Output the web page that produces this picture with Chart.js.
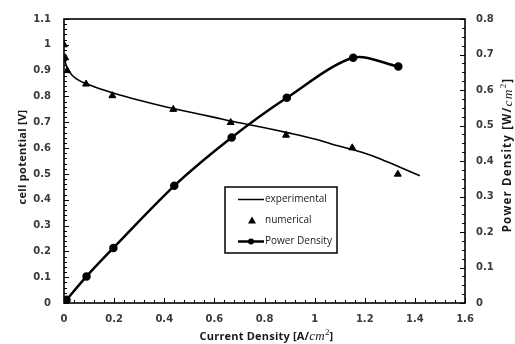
<!DOCTYPE html>
<html>
<head>
<meta charset="utf-8">
<script src="https://cdn.jsdelivr.net/npm/chart.js@4.4.1/dist/chart.umd.min.js"></script>
<style>
  html, body { margin: 0; padding: 0; background: #fff; }
  #wrap { width: 515px; height: 344px; }
</style>
</head>
<body>
<div id="wrap"><canvas id="c" width="515" height="344"></canvas></div>
<script>
// Polarisation curve: measured cell potential
const expCurrent   = [0, 0.005, 0.01, 0.02, 0.05, 0.1, 0.2, 0.3, 0.4, 0.5, 0.6, 0.7, 0.8, 0.9, 1.0, 1.1, 1.2, 1.25, 1.3, 1.35, 1.42];
const expPotential = [0.96, 0.935, 0.918, 0.897, 0.868, 0.845, 0.812, 0.785, 0.761, 0.74, 0.719, 0.698, 0.679, 0.658, 0.635, 0.607, 0.58, 0.563, 0.543, 0.522, 0.493];

// Model results
const numCurrent   = [0, 0.005, 0.013, 0.088, 0.193, 0.436, 0.665, 0.886, 1.15, 1.332];
const numPotential = [1.0, 0.95, 0.90, 0.848, 0.803, 0.75, 0.699, 0.65, 0.601, 0.499];

// Power density (right axis)
const powCurrent = [0, 0.01, 0.09, 0.197, 0.44, 0.669, 0.889, 1.154, 1.334];
const powDensity = [0, 0.009, 0.075, 0.155, 0.33, 0.466, 0.578, 0.691, 0.666];

// Axis ticks
const xTicks      = [0, 0.2, 0.4, 0.6, 0.8, 1, 1.2, 1.4, 1.6];
const xTickLabels = ['0', '0.2', '0.4', '0.6', '0.8', '1', '1.2', '1.4', '1.6'];
const yTicks      = [0, 0.1, 0.2, 0.3, 0.4, 0.5, 0.6, 0.7, 0.8, 0.9, 1, 1.1];
const yTickLabels = ['0', '0.1', '0.2', '0.3', '0.4', '0.5', '0.6', '0.7', '0.8', '0.9', '1', '1.1'];
const y2Ticks      = [0, 0.1, 0.2, 0.3, 0.4, 0.5, 0.6, 0.7, 0.8];
const y2TickLabels = ['0', '0.1', '0.2', '0.3', '0.4', '0.5', '0.6', '0.7', '0.8'];

const legendLabels = ['experimental', 'numerical', 'Power Density'];

const zip = (xs, ys) => xs.map((x, i) => ({ x: x, y: ys[i] }));

const tickFont = { family: 'DejaVu Sans', size: 10, weight: 'bold' };
const tickColor = '#3a3a3a';
const titleBold = '700 11px "Open Sans"';
const mathItalic = 'italic 13px "Liberation Serif"';
const supFont = '9px "Liberation Serif"';

function setTicks(values) {
  return function (scale) { scale.ticks = values.map(v => ({ value: v })); };
}

// Draw a run of differently styled text pieces, centred on (cx, cy), optionally rotated
function drawRuns(ctx, runs, cx, cy, angle, spacing) {
  ctx.save();
  ctx.translate(cx, cy);
  ctx.rotate(angle || 0);
  ctx.letterSpacing = (spacing || 0) + 'px';
  let total = 0;
  runs.forEach(r => { ctx.font = r.font; r.w = ctx.measureText(r.text).width; total += r.w; });
  let x = -total / 2;
  ctx.textBaseline = 'middle';
  ctx.textAlign = 'left';
  ctx.fillStyle = '#1a1a1a';
  runs.forEach(r => { ctx.font = r.font; ctx.fillText(r.text, x, r.dy || 0); x += r.w; });
  ctx.restore();
}

const framePlugin = {
  id: 'frame',
  afterDatasetsDraw(chart) {
    const ctx = chart.ctx;
    const a = chart.chartArea;
    const sx = chart.scales.x, sy = chart.scales.y, sy2 = chart.scales.y2;
    ctx.save();
    ctx.strokeStyle = '#000';
    // inner tick marks
    ctx.lineWidth = 1;
    ctx.beginPath();
    for (let i = 0; i <= 40; i++) {
      const v = i * 0.04;
      const px = Math.round(sx.getPixelForValue(v)) + 0.5;
      const len = (i % 5 === 0) ? 5 : 3;
      ctx.moveTo(px, a.bottom); ctx.lineTo(px, a.bottom - len);
    }
    for (let i = 0; i <= 55; i++) {
      const v = i * 0.02;
      const py = Math.round(sy.getPixelForValue(v)) + 0.5;
      const len = (i % 5 === 0) ? 5 : 3;
      ctx.moveTo(a.left, py); ctx.lineTo(a.left + len, py);
    }
    for (let i = 0; i <= 32; i++) {
      const v = i * 0.025;
      const py = Math.round(sy2.getPixelForValue(v)) + 0.5;
      const len = (i % 4 === 0) ? 5 : 3;
      ctx.moveTo(a.right, py); ctx.lineTo(a.right - len, py);
    }
    ctx.stroke();
    // plot frame
    ctx.lineWidth = 1.6;
    ctx.strokeRect(a.left, a.top, a.right - a.left, a.bottom - a.top);

    // legend box
    const lx = 225, ly = 187, lw = 112, lh = 66;
    ctx.fillStyle = '#fff';
    ctx.fillRect(lx, ly, lw, lh);
    ctx.lineWidth = 1.5;
    ctx.strokeRect(lx, ly, lw, lh);
    const rows = [ly + 12.5, ly + 33.5, ly + 54.5];
    ctx.font = '10px "Open Sans"';
    ctx.fillStyle = '#1a1a1a';
    ctx.textBaseline = 'middle';
    ctx.textAlign = 'left';
    legendLabels.forEach((t, i) => ctx.fillText(t, lx + 40, rows[i]));
    ctx.strokeStyle = '#000';
    ctx.lineWidth = 1.5;
    ctx.beginPath(); ctx.moveTo(lx + 13, rows[0]); ctx.lineTo(lx + 39, rows[0]); ctx.stroke();
    ctx.fillStyle = '#000';
    ctx.beginPath();
    ctx.moveTo(lx + 27, rows[1] - 4); ctx.lineTo(lx + 31, rows[1] + 3); ctx.lineTo(lx + 23, rows[1] + 3);
    ctx.closePath(); ctx.fill();
    ctx.lineWidth = 2.5;
    ctx.beginPath(); ctx.moveTo(lx + 13, rows[2]); ctx.lineTo(lx + 39, rows[2]); ctx.stroke();
    ctx.beginPath(); ctx.arc(lx + 26, rows[2], 3, 0, Math.PI * 2); ctx.fill();
    ctx.restore();

    // axis titles
    drawRuns(ctx, [
      { text: 'Current Density [A/', font: titleBold },
      { text: 'cm', font: mathItalic },
      { text: '2', font: supFont, dy: -4 },
      { text: ']', font: titleBold }
    ], (a.left + a.right) / 2 + 2, 337, 0, 0.2);
    drawRuns(ctx, [
      { text: 'cell potential [V]', font: titleBold }
    ], 23, 157, -Math.PI / 2, 0.3);
    drawRuns(ctx, [
      { text: 'Power Density [W/', font: '700 11.5px "Open Sans"' },
      { text: 'cm', font: 'italic 13.5px "Liberation Serif"' },
      { text: '2', font: supFont, dy: -4 },
      { text: ']', font: '700 11.5px "Open Sans"' }
    ], 508, 155, -Math.PI / 2, 1.2);
  }
};

new Chart(document.getElementById('c'), {
  type: 'line',
  data: {
    datasets: [
      {
        label: legendLabels[0],
        data: zip(expCurrent, expPotential),
        yAxisID: 'y',
        borderColor: '#000',
        borderWidth: 1.6,
        pointRadius: 0,
        cubicInterpolationMode: 'monotone',
        fill: false
      },
      {
        label: legendLabels[1],
        data: zip(numCurrent, numPotential),
        yAxisID: 'y',
        showLine: false,
        pointStyle: 'triangle',
        pointRadius: 4,
        pointBackgroundColor: '#000',
        pointBorderColor: '#000',
        pointBorderWidth: 1
      },
      {
        label: legendLabels[2],
        data: zip(powCurrent, powDensity),
        yAxisID: 'y2',
        borderColor: '#000',
        borderWidth: 2.5,
        tension: 0.3,
        pointRadius: 3,
        pointBackgroundColor: '#000',
        pointBorderColor: '#000',
        fill: false
      }
    ]
  },
  options: {
    responsive: false,
    animation: false,
    events: [],
    layout: { padding: { top: 16, left: 0, right: 0, bottom: 0 } },
    plugins: { legend: { display: false }, tooltip: { enabled: false }, title: { display: false } },
    scales: {
      x: {
        type: 'linear', min: 0, max: 1.6,
        afterBuildTicks: setTicks(xTicks),
        afterFit(s) { s.height = 41; },
        grid: { display: false, drawTicks: false },
        border: { display: false },
        ticks: {
          padding: 10, font: tickFont, color: tickColor, maxRotation: 0, autoSkip: false,
          callback: (v, i) => xTickLabels[i]
        }
      },
      y: {
        type: 'linear', position: 'left', min: 0, max: 1.1,
        afterBuildTicks: setTicks(yTicks),
        afterFit(s) { s.width = 64; },
        grid: { display: false, drawTicks: false },
        border: { display: false },
        ticks: {
          padding: 13, font: tickFont, color: tickColor, autoSkip: false,
          callback: (v, i) => yTickLabels[i]
        }
      },
      y2: {
        type: 'linear', position: 'right', min: 0, max: 0.8,
        afterBuildTicks: setTicks(y2Ticks),
        afterFit(s) { s.width = 50; },
        grid: { display: false, drawTicks: false },
        border: { display: false },
        ticks: {
          padding: 11, font: tickFont, color: tickColor, autoSkip: false,
          callback: (v, i) => y2TickLabels[i]
        }
      }
    }
  },
  plugins: [framePlugin]
});
</script>
</body>
</html>
